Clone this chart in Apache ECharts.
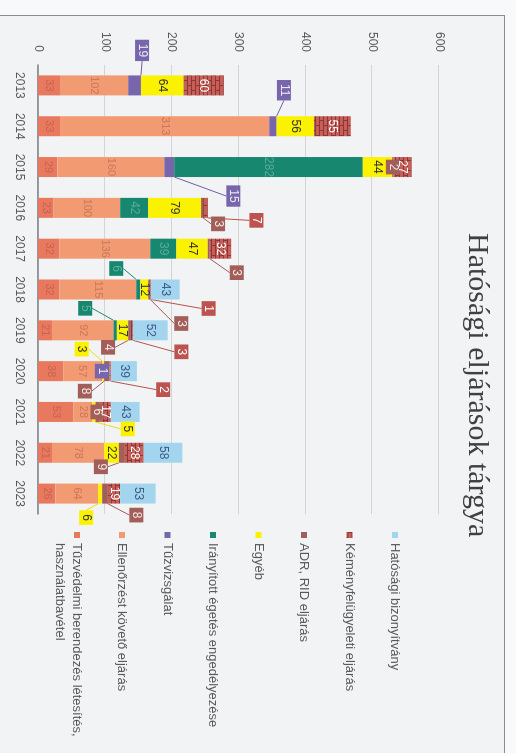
<!DOCTYPE html>
<html><head><meta charset="utf-8">
<script src="https://cdn.jsdelivr.net/npm/echarts@6/dist/echarts.min.js"></script>
<style>
html,body{margin:0;padding:0;width:516px;height:753px;overflow:hidden;background:#f8f9fa;}
#wrap{position:absolute;left:0;top:0;width:753px;height:516px;transform-origin:0 0;transform:translate(516px,0) rotate(90deg);}
#frame{position:absolute;left:15px;top:11px;right:-10px;bottom:-10px;background:#f1f3f5;border-left:1px solid #8c8c8c;border-top:1px solid #8c8c8c;}
#chart{position:absolute;left:0;top:0;width:753px;height:516px;}
</style></head><body>
<div id="wrap"><div id="frame"></div><div id="chart"></div></div>
<script>
// ---- data ----
const years = ['2013','2014','2015','2016','2017','2018','2019','2020','2021','2022','2023'];
const tuzvedelmi   = [33, 33, 29, 23, 32, 32, 21, 38, 53, 21, 26];
const ellenorzest  = [102, 313, 160, 100, 136, 115, 92, 57, 28, 78, 64];
const tuzvizsgalat = [19, 11, 15, 0, 0, 0, 0, 1, 0, 0, 0];
const iranyitott   = [0, 0, 282, 42, 39, 6, 5, 0, 0, 0, 0];
const egyeb        = [64, 56, 44, 79, 47, 12, 17, 3, 5, 22, 6];
const adr          = [0, 0, 2, 3, 3, 3, 4, 8, 6, 9, 8];
const kemeny       = [60, 55, 27, 7, 32, 1, 3, 2, 17, 28, 19];
const hatosagi     = [0, 0, 0, 0, 0, 43, 52, 39, 43, 58, 53];
const valueTicks   = [0, 100, 200, 300, 400, 500, 600];
const seriesNames = [
  'Tűzvédelmi berendezés létesítés,\nhasználatbavétel',
  'Ellenőrzést követő eljárás',
  'Tűzvizsgálat',
  'Irányított égetés engedélyezése',
  'Egyéb',
  'ADR, RID eljárás',
  'Kéményfelügyeleti eljárás',
  'Hatósági bizonyítvány'
];
const seriesValues = [tuzvedelmi, ellenorzest, tuzvizsgalat, iranyitott, egyeb, adr, kemeny, hatosagi];

// ---- styling / callout placement (pixel offsets of moved labels) ----
function brickPattern(){
  const c=document.createElement('canvas'); c.width=10; c.height=8;
  const g=c.getContext('2d');
  g.fillStyle='#c95d57'; g.fillRect(0,0,10,8);
  g.fillStyle='#8a3834';
  g.fillRect(0,0,10,1); g.fillRect(0,4,10,1);
  g.fillRect(0,0,1,4); g.fillRect(5,4,1,4);
  return c;
}
const colors = ['#e8795f','#f29a71','#7866ac','#17876f','#fbf200','#a25e58',{image:brickPattern(),repeat:'repeat'},'#a3d6ee'];
const lineColors = ['#e8795f','#f29a71','#6f5ea3','#17876f','#e8e000','#a25e58','#b9504b','#a3d6ee'];
const insideText = ['#c4644d','#c8775a','#ece8f6','rgba(130,195,180,0.6)','#333333','#f6e9e8','#ffffff','#3d5a86'];
const boxBg = [null,null,'#7866ac','#17876f','#fbf200','#a25e58','#bd534e',null];
const boxText = [null,null,'#ece8f6','#5fae9c','#333333','#f6e9e8','#ffffff',null];
const boxedAlways = [false,false,true,false,false,true,false,false];
const callouts = {
  2: {0:[-35,-7.5], 1:[-36,-11], 2:[29,-64]},
  3: {5:[-21,22], 6:[-22,30]},
  4: {7:[-22,21.5], 8:[17,-34], 10:[24,14]},
  5: {3:[16,-16], 4:[24,-28], 5:[34,-32], 6:[17,21.5], 7:[20,22], 9:[14,21], 10:[21.5,-31.5]},
  6: {3:[12.5,-51], 5:[19,-58], 6:[21.5,-49.5], 7:[18.5,-53]}
};
const FONT = 'Liberation Sans';

function makeItem(si, i, v){
  if (!v) return {value: v, label: {show: false}};
  const item = {value: v};
  const isCallout = callouts[si] && callouts[si][i];
  if (isCallout || boxedAlways[si]) {
    item.label = {backgroundColor: boxBg[si], color: boxText[si], padding: [1,4], lineHeight: 12};
  }
  if (isCallout) {
    item.labelLine = {show: true, lineStyle: {color: lineColors[si], width: 1}};
  }
  return item;
}

const series = seriesNames.map((name, si) => ({
  name: name,
  type: 'bar',
  stack: 'total',
  barWidth: 20,
  itemStyle: {color: colors[si]},
  label: {show: true, position: 'inside', color: insideText[si], fontFamily: FONT,
          fontSize: si < 2 ? 11 : 12},
  labelLayout: function(p){
    const o = callouts[p.seriesIndex] && callouts[p.seriesIndex][p.dataIndex];
    return o ? {dx: o[0], dy: o[1]} : {};
  },
  data: seriesValues[si].map((v, i) => makeItem(si, i, v))
}));

const legendOrder = [7,6,5,4,3,2,1].map(i => seriesNames[i]);

const chart = echarts.init(document.getElementById('chart'), null, {width:753, height:516});
chart.setOption({
  animation: false,
  backgroundColor: 'transparent',
  title: {text: 'Hatósági eljárások tárgya', left: 233, top: 24, padding: 0,
    textStyle: {fontFamily: 'Liberation Serif', fontSize: 30, fontWeight: 'normal', color: '#404040'}},
  legend: [{
    orient: 'vertical', left: 532, top: 114, padding: 0, itemWidth: 6, itemHeight: 6, itemGap: 31.5,
    icon: 'rect', selectedMode: false, data: legendOrder,
    textStyle: {color: '#595959', fontSize: 13, fontFamily: FONT, lineHeight: 14}
  }, {
    orient: 'vertical', left: 532, top: 430.5, padding: 0, itemWidth: 6, itemHeight: 23,
    icon: 'path://M0,0L6,0L6,6L0,6Z M0,22.98L0.02,22.98L0.02,23L0,23Z',
    selectedMode: false, data: [seriesNames[0]],
    textStyle: {color: '#595959', fontSize: 13, fontFamily: FONT, lineHeight: 17}
  }],
  grid: {left: 65, right: 239, top: 77, bottom: 38, containLabel: false},
  xAxis: {
    type: 'category', data: years,
    axisLine: {lineStyle: {color: '#7a8088', width: 1.5}},
    axisTick: {show: false},
    axisLabel: {color: '#595959', fontSize: 12, fontFamily: FONT, margin: 13}
  },
  yAxis: {
    type: 'value', min: valueTicks[0], max: valueTicks[valueTicks.length-1], interval: valueTicks[1]-valueTicks[0],
    axisLine: {show: false}, axisTick: {show: false},
    axisLabel: {color: '#595959', fontSize: 12, fontFamily: FONT, margin: 13},
    splitLine: {lineStyle: {color: '#d4d4d4', width: 1}}
  },
  series: series
});
</script>
</body></html>
